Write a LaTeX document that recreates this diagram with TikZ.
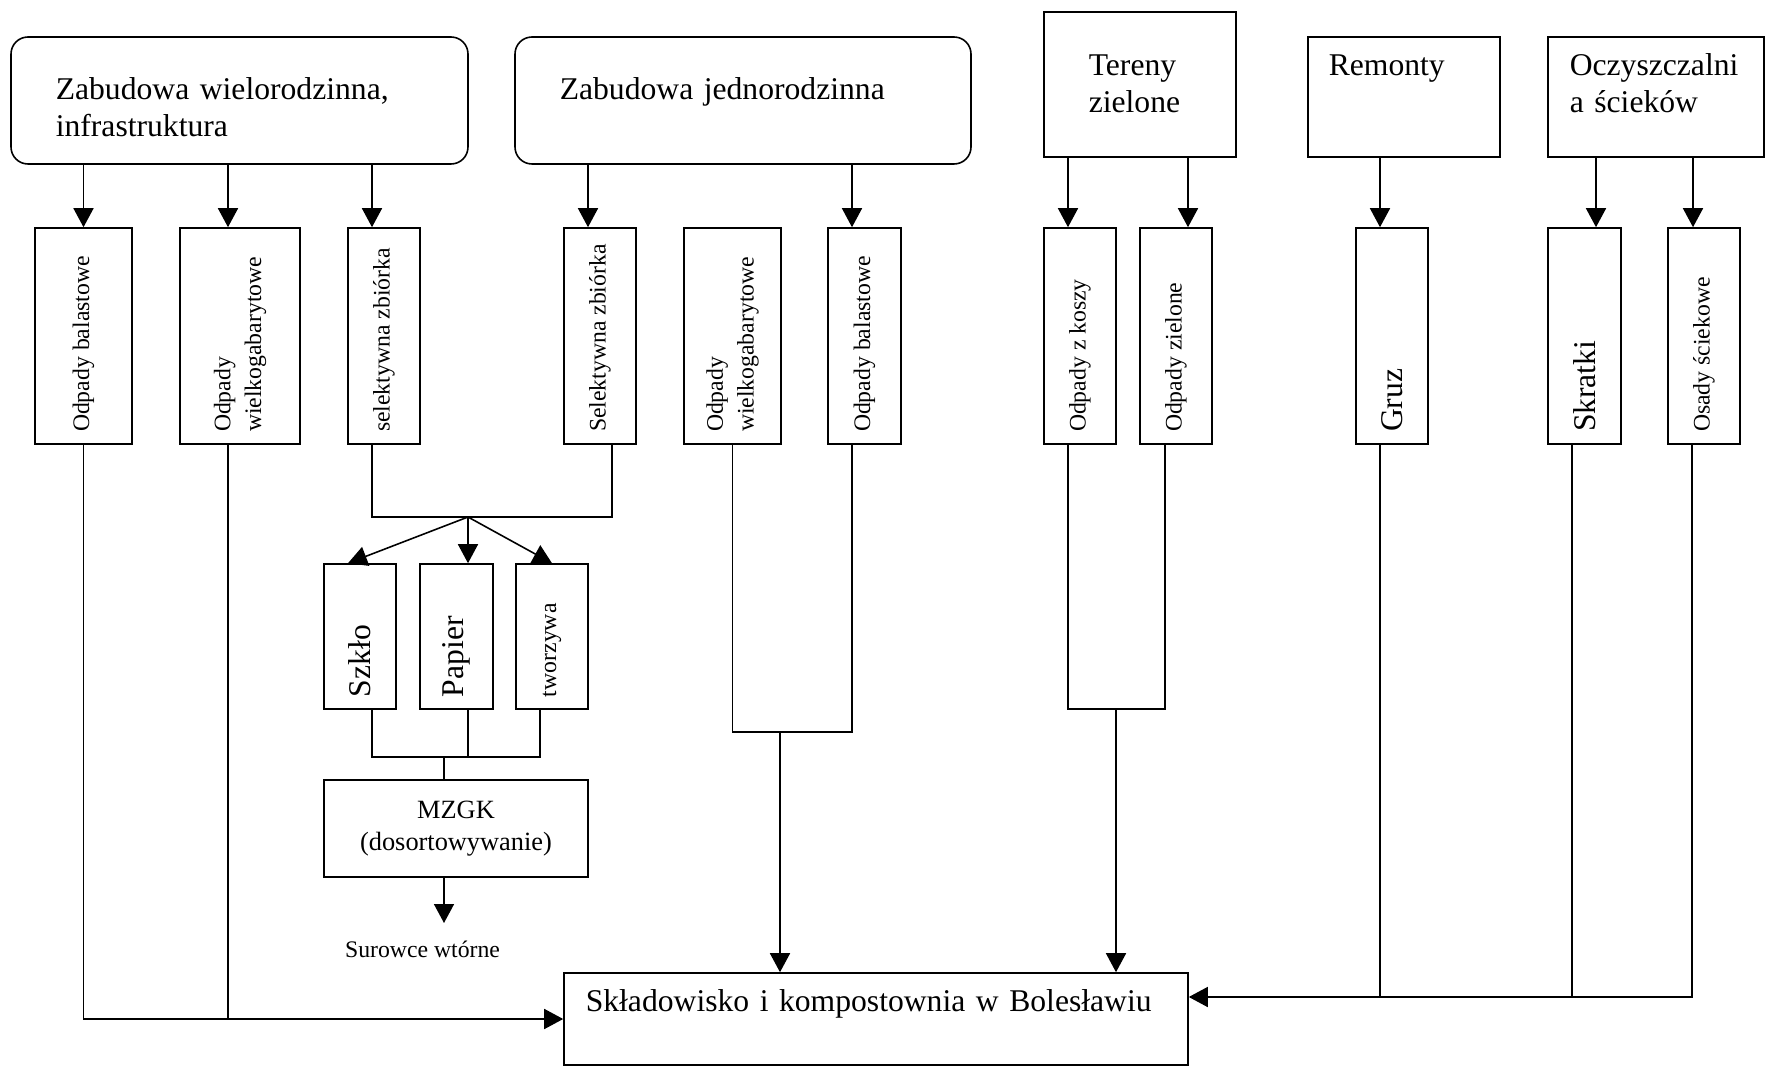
\documentclass[tikz,border=0pt]{standalone}
\usepackage{fontspec}
\setmainfont{Liberation Serif}
\usepackage{graphicx}
\usetikzlibrary{arrows.meta}

\newcommand{\pionowo}[2]{\rotatebox{90}{\parbox{#1}{\raggedright #2}}}

\begin{document}
\begin{tikzpicture}[line width=0.9pt,
  >={Triangle[length=0.38cm,width=0.40cm]},
  duzy/.style={font=\fontsize{18}{21}\selectfont},
  zrodlo/.style={draw, inner sep=0pt},
  opis/.style={duzy, inner sep=0pt, anchor=base west, text width=#1, align=left},
  kol/.style={draw, inner sep=0pt, minimum height=4.32cm, font=\fontsize{13.5}{17.5}\selectfont},
  kol3/.style={draw, inner sep=0pt, minimum height=2.90cm, font=\fontsize{13.5}{17.5}\selectfont}]
%\draw[help lines] (0,0) grid (35,21);
\useasboundingbox (0,0) rectangle (35.30,21.32);
\node (zab_w) [zrodlo, rounded corners=0.34cm, minimum width=9.14cm, minimum height=2.54cm] at (4.79,19.31) {};
\node (zab_j) [zrodlo, rounded corners=0.34cm, minimum width=9.12cm, minimum height=2.54cm] at (14.86,19.31) {};
\node (ter) [zrodlo, minimum width=3.84cm, minimum height=2.90cm] at (22.80,19.63) {};
\node (rem) [zrodlo, minimum width=3.84cm, minimum height=2.40cm] at (28.08,19.38) {};
\node (ocz) [zrodlo, minimum width=4.32cm, minimum height=2.40cm] at (33.12,19.38) {};
\node (zab_w_t) [opis=8cm] at (1.10,19.32) {Zabudowa wielorodzinna,\\ infrastruktura};
\node (zab_j_t) [opis=8cm] at (11.18,19.32) {Zabudowa jednorodzinna};
\node (ter_t) [opis=3cm] at (21.76,19.80) {Tereny\\ zielone};
\node (rem_t) [opis=3cm] at (26.56,19.80) {Remonty};
\node (ocz_t) [opis=3.8cm] at (31.38,19.80) {Oczyszczalni\\ a ścieków};
\node (bal_1) [kol, minimum width=1.94cm] at (1.67,14.60) {\pionowo{3.84cm}{Odpady balastowe}};
\node (wlk_1) [kol, minimum width=2.40cm] at (4.80,14.60) {\pionowo{3.84cm}{Odpady\\ wielkogabarytowe}};
\node (sel_1) [kol, minimum width=1.44cm] at (7.68,14.60) {\pionowo{3.84cm}{selektywna zbiórka}};
\node (sel_2) [kol, minimum width=1.44cm] at (12.00,14.60) {\pionowo{3.84cm}{Selektywna zbiórka}};
\node (wlk_2) [kol, minimum width=1.94cm] at (14.65,14.60) {\pionowo{3.84cm}{Odpady\\ wielkogabarytowe}};
\node (bal_2) [kol, minimum width=1.46cm] at (17.29,14.60) {\pionowo{3.84cm}{Odpady balastowe}};
\node (kos) [kol, minimum width=1.44cm] at (21.60,14.60) {\pionowo{3.84cm}{Odpady z koszy}};
\node (ziel) [kol, minimum width=1.44cm] at (23.52,14.60) {\pionowo{3.84cm}{Odpady zielone}};
\node (gruz) [kol, duzy, minimum width=1.44cm] at (27.84,14.60) {\pionowo{3.84cm}{Gruz}};
\node (skr) [kol, duzy, minimum width=1.46cm] at (31.69,14.60) {\pionowo{3.84cm}{Skratki}};
\node (osad) [kol, minimum width=1.44cm] at (34.08,14.60) {\pionowo{3.84cm}{Osady ściekowe}};
\node (szk) [kol3, duzy, minimum width=1.44cm] at (7.20,8.59) {\pionowo{2.42cm}{Szkło}};
\node (pap) [kol3, duzy, minimum width=1.46cm] at (9.13,8.59) {\pionowo{2.42cm}{Papier}};
\node (tw) [kol3, minimum width=1.44cm] at (11.04,8.59) {\pionowo{2.42cm}{tworzywa}};
\node (mzgk) [zrodlo, minimum width=5.28cm, minimum height=1.94cm, align=center, font=\fontsize{15}{18}\selectfont] at (9.12,4.75) {MZGK\\ (dosortowywanie)};
\node (sur) [anchor=base, inner sep=0pt, font=\fontsize{13.5}{16}\selectfont] at (8.45,2.18) {Surowce wtórne};
\node (skl) [zrodlo, minimum width=12.48cm, minimum height=1.84cm] at (17.52,0.94) {};
\node (skl_t) [opis=11.5cm] at (11.70,1.10) {Składowisko i kompostownia w Bolesławiu};

\coordinate (in_2) at ([xshift=-0.24cm]wlk_1.north);
\coordinate (in_3) at ([xshift=-0.24cm]sel_1.north);
\coordinate (in_4) at ([xshift=-0.24cm]sel_2.north);
\coordinate (in_5) at ([xshift=-0.25cm]bal_2.north);
\coordinate (in_6) at ([xshift=-0.24cm]kos.north);
\coordinate (in_7) at ([xshift=0.24cm]ziel.north);
\coordinate (in_8) at ([xshift=-0.24cm]gruz.north);
\coordinate (in_9) at ([xshift=0.23cm]skr.north);
\coordinate (in_10) at ([xshift=-0.22cm]osad.north);
\coordinate (out_2) at ([xshift=-0.24cm]wlk_1.south);
\coordinate (out_3) at ([xshift=-0.24cm]sel_1.south);
\coordinate (out_4) at ([xshift=0.24cm]sel_2.south);
\coordinate (out_6) at ([xshift=-0.25cm]bal_2.south);
\coordinate (out_7) at ([xshift=-0.24cm]kos.south);
\coordinate (out_8) at ([xshift=-0.22cm]ziel.south);
\coordinate (out_9) at ([xshift=-0.24cm]gruz.south);
\coordinate (out_10) at ([xshift=-0.25cm]skr.south);
\coordinate (out_11) at ([xshift=-0.24cm]osad.south);
\coordinate (in_s1) at ([xshift=-0.24cm]szk.north);
\coordinate (in_s2) at ([xshift=0.23cm]pap.north);
\coordinate (os_1) at ([xshift=0.24cm]szk.south);
\coordinate (os_2) at ([xshift=0.23cm]pap.south);
\coordinate (os_3) at ([xshift=-0.24cm]tw.south);
\coordinate (j_sel) at (9.36,10.98);
\coordinate (j_mat) at (8.88,6.18);
\coordinate (sur_in) at (8.88,2.86);
\coordinate (j_dom) at (15.60,6.68);
\coordinate (j_ter) at (22.32,7.14);
\coordinate (r_in) at ([yshift=0.44cm]skl.east);

\path
(zab_w.south -| bal_1.north) edge [->] (bal_1.north)
(zab_w.south -| in_2) edge [->] (in_2)
(zab_w.south -| in_3) edge [->] (in_3)
(zab_j.south -| in_4) edge [->] (in_4)
(zab_j.south -| in_5) edge [->] (in_5)
(ter.south -| in_6) edge [->] (in_6)
(ter.south -| in_7) edge [->] (in_7)
(rem.south -| in_8) edge [->] (in_8)
(ocz.south -| in_9) edge [->] (in_9)
(ocz.south -| in_10) edge [->] (in_10)
(j_sel) edge [->] (in_s1)
(j_sel) edge [->] (in_s2)
(j_sel) edge [->] (tw.north)
(j_mat |- mzgk.south) edge [->] (sur_in)
(j_dom) edge [->] (j_dom |- skl.north)
(j_ter) edge [->] (j_ter |- skl.north);

\draw (out_3) |- (j_sel) -| (out_4);
\draw (os_1) |- (j_mat) -| (os_3);
\draw (os_2) -- (os_2 |- j_mat);
\draw (j_mat) -- (j_mat |- mzgk.north);
\draw (wlk_2.south) |- (j_dom) -| (out_6);
\draw (out_7) |- (j_ter) -| (out_8);
\draw [->] (bal_1.south) |- (skl.west);
\draw (out_2) -- (out_2 |- skl.west);
\draw [->] (out_11) |- (r_in);
\draw (out_9) -- (out_9 |- r_in);
\draw (out_10) -- (out_10 |- r_in);
\end{tikzpicture}
\end{document}
